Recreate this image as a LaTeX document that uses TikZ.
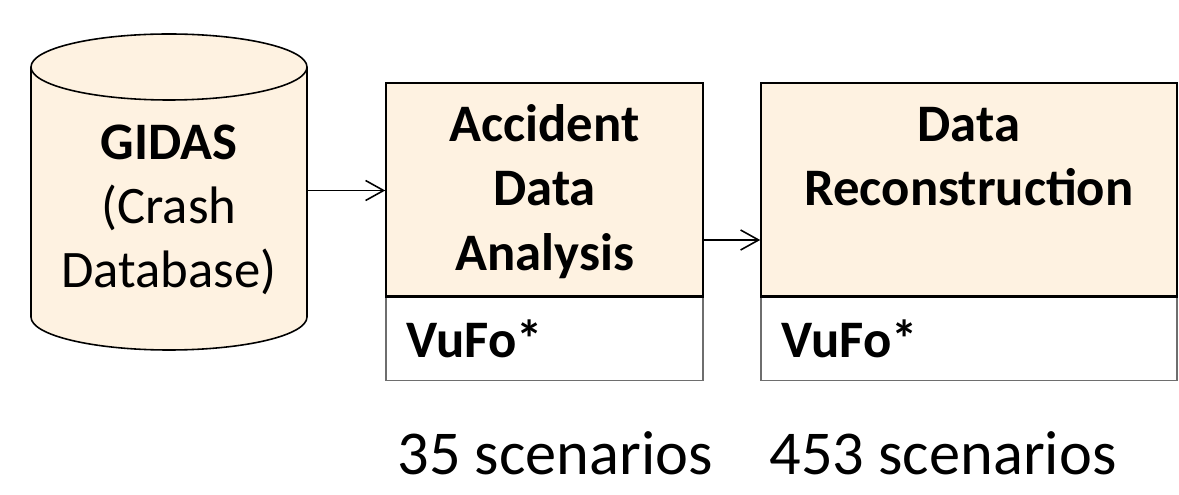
\documentclass[tikz,border=0pt]{standalone}
\usepackage{fontspec}
\setmainfont{Carlito}
\usetikzlibrary{arrows.meta,positioning}
\definecolor{crashcream}{RGB}{254,242,225}
\definecolor{frameline}{RGB}{110,110,110}

\tikzset{
    bigfont/.style={font=\fontsize{30}{36.6}\selectfont},
    boldfont/.style={font=\fontsize{30}{36.6}\selectfont\bfseries},
    upbox/.style={draw=black, line width=0.9pt, fill=crashcream, minimum height=4.26cm, inner sep=0pt},
    lowbox/.style={draw=frameline, line width=0.6pt, fill=white, minimum height=1.66cm, inner sep=0pt},
    flow/.style={-{Straight Barb[length=0.36cm, width=0.4cm]}, line width=0.9pt},
}

\begin{document}
\begin{tikzpicture}
        \useasboundingbox (0,0) rectangle (23.58,9.9);
        % crash database
        \fill[crashcream] (0.62,8.56) -- (0.62,3.56) arc[start angle=180, end angle=360, x radius=2.76, y radius=0.66]
            -- (6.14,8.56) arc[start angle=0, end angle=180, x radius=2.76, y radius=0.66] -- cycle;
        \draw[line width=0.9pt] (0.62,8.56) -- (0.62,3.56) arc[start angle=180, end angle=360, x radius=2.76, y radius=0.66]
            -- (6.14,8.56);
        \draw[line width=0.9pt] (3.38,8.56) ellipse[x radius=2.76, y radius=0.66];
        \node[bigfont, align=center, minimum width=5.52cm, inner sep=0pt] (gidas) at (3.38,5.7)
            {\textbf{GIDAS}\\(Crash\\Database)};

        % accident data analysis
        \node[upbox, minimum width=6.34cm] (ada) at (10.89,6.11) {};
        \node[lowbox, minimum width=6.34cm, below=0pt of ada] (adavufo) {};
        \node[boldfont, anchor=west, inner sep=0pt] at ([xshift=0.42cm]adavufo.west) {VuFo*};
        \node[boldfont, align=center, anchor=north, inner sep=0pt] at ([yshift=-0.28cm]ada.north)
            {\strut Accident\\Data\\Analysis};

        % data reconstruction
        \node[upbox, minimum width=8.32cm] (recon) at (19.38,6.11) {};
        \node[lowbox, minimum width=8.32cm, below=0pt of recon] (reconvufo) {};
        \node[boldfont, anchor=west, inner sep=0pt] at ([xshift=0.42cm]reconvufo.west) {VuFo*};
        \node[boldfont, align=center, anchor=north, inner sep=0pt] at ([yshift=-0.28cm]recon.north)
            {\strut Data\\Reconstruction};
        \draw[line width=0.9pt] (ada.south west) -- (ada.south east);
        \draw[line width=0.9pt] (recon.south west) -- (recon.south east);

        % connectors
        \draw[flow] (gidas.east |- 6.09,6.09) -- (ada.west |- 6.09,6.09);
        \draw[flow] ([yshift=-1.01cm]ada.east) -- ([yshift=-1.01cm]recon.west);

        % scenario counts
        \node[font=\fontsize{35.5}{40}\selectfont, anchor=base] (adacount) at (11.1,0.4) {35 scenarios};
        \node[font=\fontsize{35.5}{40}\selectfont, anchor=base] (reconcount) at (18.86,0.4) {453 scenarios};
    \end{tikzpicture}
\end{document}
